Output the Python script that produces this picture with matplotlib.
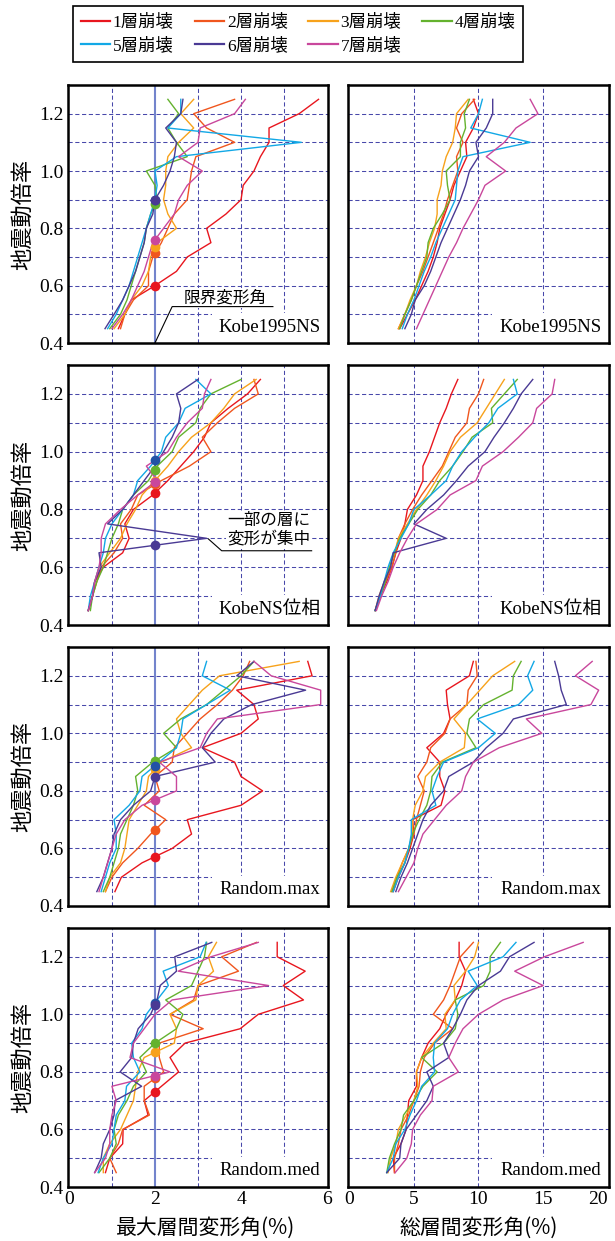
import numpy as np
import matplotlib
matplotlib.use('Agg')
import matplotlib.pyplot as plt
from matplotlib.lines import Line2D
from matplotlib.patches import Rectangle

plt.rcParams['font.family'] = ['Liberation Serif', 'Noto Sans CJK JP']

# 地震動倍率 (縦軸)
SCALE = [0.45, 0.50, 0.55, 0.60, 0.65, 0.70, 0.75, 0.80, 0.85,
         0.90, 0.95, 1.00, 1.05, 1.10, 1.15, 1.20, 1.25]
STORIES = ['1層崩壊', '2層崩壊', '3層崩壊', '4層崩壊', '5層崩壊', '6層崩壊', '7層崩壊']
WAVES = ['Kobe1995NS', 'KobeNS位相', 'Random.max', 'Random.med']
LIMIT_DRIFT = 2.0  # 限界変形角 (%)

# ---- Kobe1995NS ----
kobe_max = [
    [1.15, 1.30, 1.45, 2.00, 2.50, 2.75, 3.30, 3.20, 3.65, 4.00, 4.05, 4.30, 4.45, 4.65, 4.65, 5.35, 5.80],
    [1.20, 1.30, 1.50, 1.85, 1.85, 1.95, 2.15, 2.30, 2.45, 2.75, 2.80, 2.85, 2.95, 3.85, 3.20, 2.90, 3.85],
    [1.05, 1.30, 1.45, 1.70, 1.85, 1.90, 2.05, 2.50, 2.30, 2.20, 2.25, 2.25, 2.30, 2.55, 2.90, 2.60, 2.90],
    [0.95, 1.20, 1.35, 1.45, 1.55, 1.65, 1.75, 1.80, 1.90, 2.05, 2.00, 1.80, 2.75, 2.50, 2.30, 2.55, 2.30],
    [0.90, 1.10, 1.25, 1.40, 1.50, 1.60, 1.70, 1.80, 1.90, 2.00, 2.05, 2.00, 2.50, 5.40, 2.30, 2.60, 2.60],
    [0.84, 1.05, 1.25, 1.40, 1.55, 1.65, 1.75, 1.80, 1.95, 2.00, 2.20, 2.35, 2.45, 2.50, 2.25, 2.60, 2.65],
    [1.00, 1.25, 1.45, 1.60, 1.75, 1.85, 1.95, 2.20, 2.45, 2.55, 2.75, 3.10, 2.55, 3.00, 3.05, 3.85, 4.10],
]
kobe_tot = [
    [3.9, 4.5, 5.1, 5.6, 6.1, 6.5, 6.8, 7.0, 7.4, 7.8, 8.1, 8.6, 9.1, 9.0, 9.6, 10.0, 9.6],
    [3.8, 4.3, 4.8, 5.2, 5.7, 6.1, 6.5, 6.9, 7.3, 7.6, 8.0, 8.4, 8.3, 8.8, 8.3, 8.7, 9.7],
    [3.8, 4.3, 4.7, 5.2, 5.5, 5.9, 6.2, 6.6, 6.8, 6.8, 7.1, 7.2, 7.5, 8.0, 8.2, 8.3, 9.2],
    [3.9, 4.3, 4.8, 5.2, 5.6, 6.0, 6.1, 6.5, 7.2, 7.8, 7.6, 7.5, 8.6, 8.6, 9.0, 8.9, 9.3],
    [4.1, 4.5, 5.0, 5.4, 5.8, 6.3, 6.7, 7.2, 7.7, 8.2, 8.3, 8.4, 8.8, 14.0, 9.4, 10.0, 10.3],
    [4.3, 4.8, 5.1, 5.8, 6.3, 6.7, 7.1, 7.6, 8.1, 8.6, 9.0, 9.3, 10.0, 9.8, 10.6, 11.1, 11.1],
    [5.2, 5.7, 6.2, 6.7, 7.2, 7.7, 8.3, 8.8, 9.4, 10.0, 10.5, 12.1, 10.6, 12.0, 12.9, 14.6, 14.0],
]

# ---- KobeNS位相 ----
phase_max = [
    [0.45, 0.55, 0.60, 0.80, 1.25, 1.40, 1.30, 1.50, 1.95, 2.30, 2.60, 2.90, 3.15, 3.30, 3.70, 4.15, 4.45],
    [0.45, 0.55, 0.65, 0.75, 1.05, 1.25, 1.20, 1.45, 1.60, 2.15, 2.80, 3.30, 3.10, 3.45, 3.85, 4.40, 4.30],
    [0.45, 0.55, 0.60, 0.70, 0.95, 1.20, 1.35, 1.55, 1.70, 2.00, 2.30, 2.55, 2.85, 3.30, 3.60, 3.85, 4.35],
    [0.50, 0.55, 0.65, 0.80, 0.90, 1.00, 1.15, 1.25, 1.50, 1.85, 2.05, 2.40, 2.55, 2.95, 3.05, 3.30, 4.00],
    [0.45, 0.50, 0.60, 0.70, 0.80, 0.85, 1.00, 1.25, 1.50, 1.60, 1.90, 2.15, 2.25, 2.55, 2.70, 3.30, 2.95],
    [0.45, 0.55, 0.60, 0.75, 0.70, 3.20, 0.90, 1.25, 1.50, 1.75, 2.00, 2.20, 2.40, 2.55, 2.60, 2.50, 3.00],
    [0.45, 0.55, 0.60, 0.70, 0.75, 0.75, 0.85, 1.20, 1.60, 2.05, 1.80, 2.30, 2.50, 2.75, 3.10, 3.15, 3.30],
]
phase_tot = [
    [2.0, 2.4, 2.9, 3.3, 3.6, 4.0, 4.3, 4.5, 5.2, 5.7, 5.7, 6.2, 6.6, 7.0, 7.5, 7.9, 8.4],
    [2.0, 2.4, 2.8, 3.3, 3.6, 3.8, 4.3, 4.9, 5.6, 6.4, 7.2, 7.7, 8.2, 9.1, 9.3, 10.0, 10.4],
    [2.0, 2.3, 2.7, 3.1, 3.5, 3.8, 4.5, 5.2, 6.0, 6.7, 7.3, 7.8, 8.6, 9.9, 10.6, 11.3, 12.0],
    [2.0, 2.4, 2.8, 3.1, 3.5, 3.9, 4.6, 5.3, 6.3, 7.0, 8.0, 8.8, 9.5, 11.1, 11.0, 12.0, 13.0],
    [2.0, 2.4, 2.7, 3.0, 3.4, 4.0, 4.6, 5.0, 6.3, 7.5, 8.0, 8.7, 9.7, 10.8, 11.5, 13.0, 12.7],
    [2.0, 2.3, 2.7, 3.2, 3.4, 7.5, 5.0, 6.0, 7.3, 8.3, 9.2, 10.5, 11.2, 12.0, 12.7, 13.3, 14.2],
    [2.1, 2.5, 3.0, 3.4, 3.9, 4.5, 5.2, 6.8, 7.8, 9.8, 10.3, 11.9, 13.1, 14.2, 14.5, 15.7, 15.9],
]

# ---- Random.max ----
rmax_max = [
    [1.07, 1.22, 1.70, 2.40, 2.85, 2.75, 4.00, 4.50, 4.00, 3.85, 3.10, 4.00, 4.40, 4.30, 3.90, 5.65, 5.55],
    [0.85, 1.00, 1.25, 1.60, 1.90, 2.25, 1.75, 2.10, 2.00, 2.40, 2.45, 2.75, 3.05, 3.45, 3.80, 4.05, 4.20],
    [0.85, 0.95, 1.20, 1.30, 1.35, 1.40, 1.60, 1.80, 1.85, 2.15, 2.85, 2.60, 2.50, 2.80, 3.10, 3.50, 5.35],
    [0.80, 0.95, 1.05, 1.15, 1.20, 1.35, 1.50, 1.60, 1.55, 1.95, 2.50, 2.20, 2.60, 3.20, 3.60, 4.00, 4.30],
    [0.75, 0.85, 0.95, 1.10, 1.10, 1.05, 1.40, 1.65, 1.70, 2.10, 2.50, 2.60, 2.65, 3.20, 3.75, 3.10, 3.20],
    [0.65, 0.80, 0.90, 1.00, 1.05, 1.20, 1.50, 1.90, 2.00, 3.40, 3.10, 3.30, 3.60, 4.25, 5.50, 3.90, 4.30],
    [0.70, 0.80, 0.90, 1.00, 1.10, 1.30, 1.70, 2.50, 2.50, 2.10, 3.05, 3.20, 3.45, 5.85, 5.85, 4.70, 4.30],
]
rmax_tot = [
    [3.4, 3.8, 4.3, 4.7, 5.0, 4.9, 7.1, 7.4, 7.0, 7.0, 6.0, 7.3, 7.8, 7.6, 7.5, 9.3, 9.6],
    [3.3, 3.7, 4.1, 4.6, 5.0, 5.2, 5.5, 5.8, 5.3, 6.0, 6.3, 7.4, 7.8, 9.1, 9.2, 9.9, 9.8],
    [3.2, 3.6, 4.1, 4.6, 4.9, 4.9, 5.1, 5.7, 5.9, 7.0, 8.9, 9.0, 8.1, 9.1, 10.1, 11.1, 12.8],
    [3.3, 3.7, 4.3, 4.6, 4.9, 5.4, 6.0, 6.3, 6.4, 7.2, 9.8, 9.1, 9.3, 10.4, 12.6, 12.7, 13.3],
    [3.4, 3.8, 4.3, 4.6, 4.8, 4.8, 6.7, 6.4, 6.8, 7.3, 10.0, 11.3, 9.9, 13.1, 14.2, 13.8, 14.3],
    [3.6, 4.0, 4.5, 4.9, 5.3, 5.7, 6.3, 7.3, 7.7, 9.6, 10.6, 11.9, 12.7, 16.8, 16.4, 16.2, 15.9],
    [3.8, 4.4, 5.0, 5.3, 5.7, 6.6, 7.5, 8.7, 9.0, 9.6, 11.6, 14.9, 13.7, 18.7, 19.3, 17.5, 18.8],
]

# ---- Random.med ----
rmed_max = [
    [0.85, 0.95, 1.25, 1.26, 1.84, 1.75, 2.15, 2.55, 2.35, 2.70, 3.98, 4.40, 5.45, 4.98, 5.49, 4.84, 4.84],
    [1.10, 0.95, 1.15, 1.25, 1.87, 1.75, 1.75, 2.20, 2.10, 2.10, 3.12, 2.35, 2.90, 3.00, 3.94, 3.55, 4.36],
    [0.80, 0.80, 0.95, 1.20, 1.35, 1.50, 1.55, 1.60, 1.75, 2.45, 2.50, 2.35, 2.95, 3.00, 3.36, 3.24, 3.43],
    [0.70, 0.95, 1.10, 1.05, 1.15, 1.35, 1.50, 1.80, 1.65, 2.00, 2.50, 2.65, 2.25, 2.85, 3.00, 3.15, 3.20],
    [0.68, 0.80, 1.00, 1.05, 1.10, 1.30, 1.34, 1.65, 1.50, 1.46, 1.70, 1.80, 2.05, 2.31, 2.19, 3.05, 3.19],
    [0.60, 0.75, 0.80, 0.95, 1.05, 1.07, 1.69, 1.19, 1.46, 1.50, 1.61, 1.90, 2.05, 2.12, 2.50, 2.46, 3.32],
    [0.60, 0.85, 0.95, 0.95, 1.00, 1.10, 1.00, 2.35, 1.42, 1.50, 1.75, 2.00, 2.40, 4.64, 2.54, 3.30, 4.40],
]
rmed_tot = [
    [3.5, 3.4, 4.0, 4.4, 4.5, 4.6, 5.2, 5.2, 5.6, 6.1, 7.0, 7.5, 8.2, 8.7, 9.0, 8.5, 8.5],
    [3.5, 3.5, 3.8, 4.0, 4.6, 5.0, 5.4, 5.5, 5.8, 6.6, 8.0, 6.5, 7.3, 7.8, 8.2, 8.6, 9.6],
    [3.0, 3.2, 3.6, 3.8, 4.4, 5.0, 5.3, 5.2, 5.6, 6.5, 7.5, 7.4, 8.2, 8.1, 9.0, 9.7, 10.0],
    [2.9, 3.1, 3.5, 4.0, 4.2, 5.0, 5.7, 6.8, 5.6, 7.3, 8.2, 8.4, 8.2, 10.4, 10.9, 10.9, 11.7],
    [2.9, 3.4, 3.6, 4.3, 4.7, 5.2, 5.6, 6.6, 6.5, 6.6, 7.6, 8.0, 8.6, 9.9, 9.2, 11.9, 12.9],
    [2.9, 3.9, 4.0, 4.4, 5.2, 6.0, 6.5, 6.0, 7.7, 7.3, 8.0, 8.6, 9.1, 10.0, 11.7, 12.4, 14.3],
    [3.55, 4.45, 4.8, 4.9, 5.5, 6.4, 6.5, 8.44, 7.7, 8.2, 8.8, 10.0, 11.9, 15.0, 12.8, 15.1, 18.1],
]

PANELS = [
    (kobe_max, kobe_tot),
    (phase_max, phase_tot),
    (rmax_max, rmax_tot),
    (rmed_max, rmed_tot),
]

COLORS = ['#e8161e', '#f0561e', '#f7a21b', '#64b22e', '#12a8e6', '#4a3a94', '#c9479c']
DOT_COLORS = ['#e8161e', '#f0561e', '#f7a21b', '#64b22e', '#2252a6', '#4a3a94', '#c9479c']
GRID = '#4848aa'
LIMIT_COLOR = '#7384cc'
DASH = (0, (4, 2.5))

W, H = 615, 1241
ROW_TOP = [85, 365, 647, 928]
ROW_BOT = [343, 625, 906, 1187]
LEFT_X = (68, 328)
RIGHT_X = (348, 609)

TICK_FONT = 14
CJK = ['Noto Sans CJK JP']
MIXED = ['Liberation Serif', 'Noto Sans CJK JP']


def limit_crossing(xs):
    """限界変形角 (2%) に最初に達する地震動倍率を線形補間で求める"""
    for i in range(len(xs) - 1):
        if xs[i] < LIMIT_DRIFT <= xs[i + 1]:
            t = (LIMIT_DRIFT - xs[i]) / (xs[i + 1] - xs[i])
            return SCALE[i] + t * (SCALE[i + 1] - SCALE[i])
    return None


def make_axes(fig, xpix, row):
    x0, x1 = xpix
    top, bot = ROW_TOP[row], ROW_BOT[row]
    return fig.add_axes([x0 / W, 1 - bot / H, (x1 - x0) / W, (bot - top) / H])


def style_axes(ax, xlim, vgrid, label, show_y, show_x, xticks):
    ax.set_xlim(*xlim)
    ax.set_ylim(0.4, 1.3)
    for gy in [0.5, 0.6, 0.7, 0.8, 0.9, 1.0, 1.1, 1.2]:
        ax.axhline(gy, color=GRID, lw=0.75, ls=DASH, zorder=1)
    for gx in vgrid:
        ax.axvline(gx, color=GRID, lw=0.75, ls=DASH, zorder=1)
    # 波形名ラベル (白抜き)
    ax.add_patch(Rectangle((0.553, 0.0), 0.447, 0.115, transform=ax.transAxes,
                           facecolor='white', edgecolor='none', zorder=1.5))
    ax.text(0.97, 0.062, label, transform=ax.transAxes, ha='right', va='center',
            fontsize=13.5, family=MIXED, zorder=5)

    ax.set_yticks([0.4, 0.6, 0.8, 1.0, 1.2])
    ax.set_yticklabels(['0.4', '0.6', '0.8', '1.0', '1.2'] if show_y else [])
    ax.set_xticks(xticks)
    if show_x:
        ax.set_xticklabels([str(t) for t in xticks])
    else:
        ax.set_xticklabels([])
    ax.tick_params(length=0, labelsize=TICK_FONT, pad=3)
    for sp in ax.spines.values():
        sp.set_linewidth(1.8)
        sp.set_color('black')
        sp.set_zorder(6)


fig = plt.figure(figsize=(W / 100, H / 100), dpi=100)

for row, (drift_max, drift_tot) in enumerate(PANELS):
    last = row == len(PANELS) - 1

    # 最大層間変形角
    ax = make_axes(fig, LEFT_X, row)
    style_axes(ax, (-0.02, 6.02), [1, 3, 4, 5], WAVES[row], True, last, [0, 2, 4, 6])
    ax.axvline(LIMIT_DRIFT, color=LIMIT_COLOR, lw=1.5, zorder=1.2)
    for xs, c in zip(drift_max, COLORS):
        ax.plot(xs, SCALE, color=c, lw=1.0, zorder=3)
    for xs, c in zip(drift_max, DOT_COLORS):
        yc = limit_crossing(xs)
        if yc is not None:
            ax.plot([LIMIT_DRIFT], [yc], 'o', ms=7, color=c, mec='none', zorder=4)

    if row == 0:
        ax.text(3.63, 0.558, '限界変形角', ha='center', va='center', fontsize=12,
                family=CJK, zorder=5,
                bbox=dict(facecolor='white', edgecolor='none', pad=1))
        ax.plot([2.0, 2.4, 4.74], [0.4, 0.527, 0.527], color='black', lw=0.8,
                zorder=5, clip_on=False)
    if row == 1:
        ax.text(3.67, 0.729, '一部の層に\n変形が集中', ha='left', va='center',
                fontsize=12, family=CJK, linespacing=1.15, zorder=5,
                bbox=dict(facecolor='white', edgecolor='none', pad=1))
        ax.plot([3.24, 3.55, 5.64], [0.698, 0.657, 0.657], color='black', lw=0.8,
                zorder=5)
    if last:
        ax.set_xlabel('最大層間変形角(%)', fontsize=15, family=CJK, labelpad=2)
        ax.xaxis.set_label_coords(0.53, -0.115)

    # 総層間変形角
    ax2 = make_axes(fig, RIGHT_X, row)
    style_axes(ax2, (-0.1, 20.1), [5, 10, 15], WAVES[row], False, last,
               [0, 5, 10, 15, 20])
    for xs, c in zip(drift_tot, COLORS):
        ax2.plot(xs, SCALE, color=c, lw=1.0, zorder=3)
    if last:
        ax2.get_xticklabels()[-1].set_ha('right')
        ax2.set_xlabel('総層間変形角(%)', fontsize=15, family=CJK, labelpad=2)
        ax2.xaxis.set_label_coords(0.5, -0.115)

    yc_fig = 1 - (ROW_TOP[row] + ROW_BOT[row]) / 2 / H
    fig.text(23 / W, yc_fig, '地震動倍率', rotation=90, ha='center', va='center',
             fontsize=16, family=CJK)

# 凡例 (行方向に並べる)
handles = [Line2D([], [], color=c, lw=1.6) for c in COLORS]
order = [0, 4, 1, 5, 2, 6, 3]
leg = fig.legend([handles[i] for i in order], [STORIES[i] for i in order],
                 loc='upper left', bbox_to_anchor=(73 / W, 1 - 6 / H), ncol=4,
                 frameon=True, fancybox=False, edgecolor='black', framealpha=1,
                 borderaxespad=0, handlelength=1.7, handletextpad=0.15,
                 columnspacing=1.2, labelspacing=0.4, borderpad=0.45,
                 prop={'family': MIXED, 'size': 12.5})
leg.get_frame().set_linewidth(1.2)

fig.savefig('out.png', dpi=100)
